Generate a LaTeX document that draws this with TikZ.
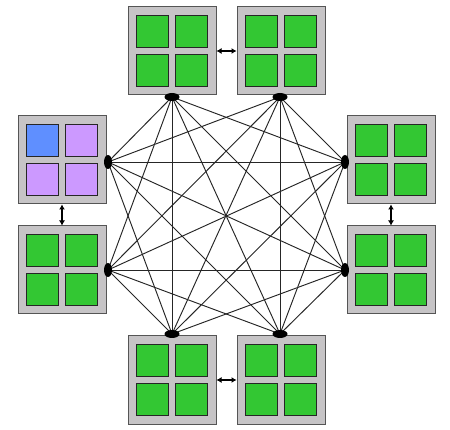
\documentclass[tikz,border=0pt]{standalone}
\usetikzlibrary{arrows.meta,shapes.geometric,backgrounds}
\definecolor{boxgray}{HTML}{C6C4C6}
\definecolor{boxedge}{HTML}{555555}
\definecolor{cellgreen}{HTML}{33C733}
\definecolor{cellblue}{HTML}{5F8FFF}
\definecolor{celllilac}{HTML}{CC99FF}
\begin{document}
\begin{tikzpicture}[x=1pt,y=-1pt,
  chip/.style={draw=boxedge, fill=boxgray, line width=1pt, minimum size=88pt, inner sep=0pt},
  cell/.style={draw=black!85, line width=0.9pt, minimum size=32pt, inner sep=0pt, fill=cellgreen},
  port/.style={ellipse, fill=black, inner sep=0pt},
  porth/.style={port, minimum width=15pt, minimum height=8pt},
  portv/.style={port, minimum width=8pt, minimum height=14pt},
  link/.style={line width=0.95pt, draw=black!85},
  pair/.style={line width=1.2pt, {Latex[length=5pt,width=6pt]}-{Latex[length=5pt,width=6pt]}}]
\useasboundingbox (0,0) rectangle (450,430);
% green chips
\foreach \n/\x/\y in {T1/172/51, T2/281/51, L2/62/270, R1/391/160, R2/391/270, B1/172/380, B2/281/380} {
  \node[chip] (\n) at (\x,\y) {};
  \foreach \i/\dx/\dy in {a/-19.5/-19.5, b/19.5/-19.5, c/-19.5/19.5, d/19.5/19.5}
    \node[cell] (\n\i) at (\x+\dx,\y+\dy) {};
}
% coloured chip
\node[chip] (L1) at (62,160) {};
\node[cell, fill=cellblue]  (L1a) at (42.5,140.5) {};
\node[cell, fill=celllilac] (L1b) at (81.5,140.5) {};
\node[cell, fill=celllilac] (L1c) at (42.5,179.5) {};
\node[cell, fill=celllilac] (L1d) at (81.5,179.5) {};
% ports
\node[porth] (pT1) at (172,97) {};
\node[porth] (pT2) at (280,97) {};
\node[porth] (pB1) at (172,334) {};
\node[porth] (pB2) at (280,334) {};
\node[portv] (pL1) at (108,162) {};
\node[portv] (pL2) at (108,270) {};
\node[portv] (pR1) at (345,162) {};
\node[portv] (pR2) at (345,270) {};
% links
\begin{scope}[on background layer]
\foreach \a/\b in {T1/R1,T1/R2,T1/B2,T1/B1,T1/L2,T1/L1,
                   T2/R1,T2/R2,T2/B2,T2/B1,T2/L2,T2/L1,
                   R1/B2,R1/B1,R1/L2,R1/L1,
                   R2/B2,R2/B1,R2/L2,R2/L1,
                   B2/L2,B2/L1,B1/L2,B1/L1}
  \draw[link] (p\a.center) -- (p\b.center);
\end{scope}
% pair arrows
\draw[pair] (T1.east) -- (T2.west);
\draw[pair] (B1.east) -- (B2.west);
\draw[pair] (L1.south) -- (L2.north);
\draw[pair] (R1.south) -- (R2.north);
\end{tikzpicture}
\end{document}
